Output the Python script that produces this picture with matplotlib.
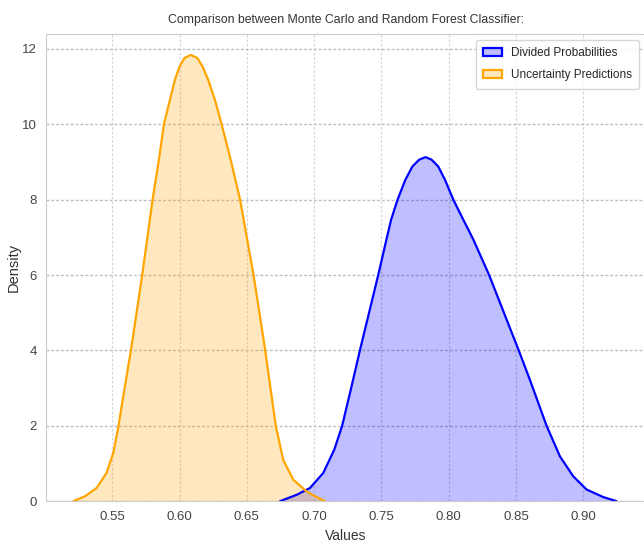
import matplotlib
matplotlib.use("Agg")
import matplotlib.pyplot as plt
import seaborn as sns
from matplotlib.patches import Patch

# values
unc_x = [0.521, 0.5297, 0.5384, 0.5458, 0.5508, 0.5545, 0.5582, 0.5639, 0.5723, 0.580,
         0.5847, 0.5884, 0.5929, 0.5966, 0.600, 0.6037, 0.6083, 0.6132, 0.6172, 0.6213,
         0.6263, 0.6313, 0.6380, 0.6450, 0.6550, 0.6637, 0.6667, 0.6715, 0.677, 0.6845,
         0.6944, 0.7019, 0.708]
unc_y = [0.0, 0.13, 0.35, 0.75, 1.28, 1.95, 2.78, 4.0, 6.0, 8.0,
         9.06, 10.0, 10.65, 11.18, 11.53, 11.76, 11.84, 11.76, 11.53, 11.18,
         10.65, 10.0, 9.06, 8.0, 6.0, 4.0, 3.22, 2.0, 1.1, 0.57,
         0.26, 0.11, 0.0]

div_x = [0.6746, 0.687, 0.6969, 0.7068, 0.7150, 0.7208, 0.7275, 0.734, 0.7476, 0.7537,
         0.7572, 0.762, 0.7678, 0.773, 0.778, 0.7828, 0.7873, 0.7922, 0.7972, 0.8034,
         0.8108, 0.8183, 0.830, 0.852, 0.8603, 0.8727, 0.8826, 0.8925, 0.9024, 0.9148,
         0.9247]
div_y = [0.0, 0.17, 0.35, 0.75, 1.37, 2.0, 3.0, 4.0, 6.0, 6.94,
         7.47, 8.0, 8.53, 8.88, 9.06, 9.13, 9.06, 8.88, 8.53, 8.0,
         7.47, 6.94, 6.0, 4.0, 3.22, 2.0, 1.19, 0.66, 0.31, 0.11,
         0.0]

x_ticks = [0.55, 0.60, 0.65, 0.70, 0.75, 0.80, 0.85, 0.90]
y_ticks = [0, 2, 4, 6, 8, 10, 12]

sns.set_style("whitegrid")
plt.rcParams['font.family'] = ['Liberation Sans', 'DejaVu Sans']

fig = plt.figure(figsize=(6.44, 5.46), dpi=100)
ax = fig.add_axes([0.072, 0.082, 0.93, 0.856])

ax.fill_between(div_x, div_y, color='blue', alpha=0.25, lw=0)
ax.plot(div_x, div_y, color='blue', lw=1.6)
ax.fill_between(unc_x, unc_y, color='orange', alpha=0.25, lw=0)
ax.plot(unc_x, unc_y, color='orange', lw=1.6)

handles = [Patch(facecolor=(0, 0, 1, 0.25), edgecolor='blue', lw=1.6, label='Divided Probabilities'),
           Patch(facecolor=(1, 0.647, 0, 0.25), edgecolor='orange', lw=1.6, label='Uncertainty Predictions')]
ax.legend(handles=handles, loc='upper right', fontsize=8.5, handlelength=1.6,
          borderaxespad=0.5, labelspacing=0.9, borderpad=0.6)

ax.set_xlim(0.5011, 0.946)
ax.set_ylim(0, 12.4)
ax.set_xticks(x_ticks)
ax.set_xticklabels([f"{v:.2f}" for v in x_ticks])
ax.set_yticks(y_ticks)
ax.tick_params(labelsize=9.5, colors='#444444')
ax.xaxis.grid(True, linestyle=(0, (2, 1.5)), color='#d4d4d4', lw=0.9)
ax.yaxis.grid(True, linestyle=(0, (2, 1.5)), color='#bdbdbd', lw=1.0)

ax.set_title("Comparison between Monte Carlo and Random Forest Classifier:", fontsize=8.8,
             color='#333333', pad=8)
ax.set_xlabel("Values", fontsize=10, color='#333333', labelpad=4)
ax.set_ylabel("Density", fontsize=10.5, color='#333333')
ax.yaxis.set_label_coords(-0.043, 0.5)

fig.savefig("out.png", dpi=100)
